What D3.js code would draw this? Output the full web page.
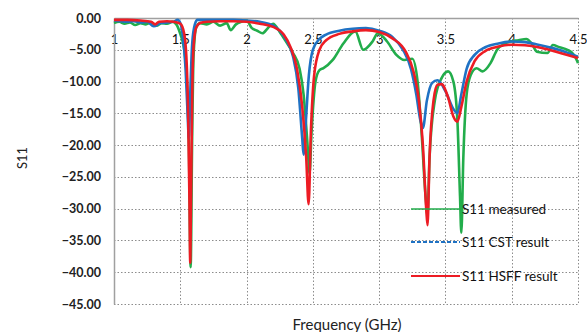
<!DOCTYPE html>
<html><head><meta charset="utf-8">
<script src="https://cdn.jsdelivr.net/npm/d3@7"></script>
<style>
body{margin:0;background:#fff;}
svg{display:block;font-family:Lato,"Open Sans",sans-serif;}
</style></head>
<body><svg id="c" width="587" height="332"></svg>
<script>
const xTicks = [1, 1.5, 2, 2.5, 3, 3.5, 4, 4.5];
const xTickLabels = ["1", "1.5", "2", "2.5", "3", "3.5", "4", "4.5"];
const yTicks = [0, -5, -10, -15, -20, -25, -30, -35, -40, -45];

const seriesNames = ["S11 measured", "S11 CST result", "S11 HSFF result"];

const measuredF = [1.00,1.04,1.08,1.12,1.16,1.20,1.24,1.28,1.32,1.36,1.40,1.44,1.47,1.50,1.53,1.55,1.565,1.578,1.59,1.60,1.62,1.65,1.70,1.75,1.80,1.85,1.88,1.92,1.96,2.00,2.04,2.08,2.12,2.16,2.20,2.25,2.30,2.35,2.40,2.43,2.46,2.475,2.49,2.52,2.55,2.58,2.65,2.73,2.82,2.88,2.95,2.99,3.06,3.13,3.19,3.25,3.29,3.32,3.35,3.365,3.38,3.42,3.47,3.52,3.56,3.59,3.61,3.62,3.635,3.66,3.69,3.735,3.78,3.84,3.89,3.95,3.99,4.05,4.11,4.15,4.19,4.27,4.31,4.36,4.42,4.47,4.50];
const measuredS = [-0.8,-0.6,-0.9,-0.7,-1.1,-0.8,-1.0,-0.7,-1.2,-0.8,-0.9,-0.6,-1.0,-2.5,-5,-10,-20,-39.2,-18,-6,-1.5,-0.8,-1.0,-0.6,-1.2,-0.8,-1.9,-1.0,-0.6,-0.4,-1.6,-2.0,-2.4,-1.6,-0.9,-2.2,-3.8,-5.5,-8,-12,-20,-24.5,-18,-10,-8.2,-7.9,-6.6,-4.0,-2.1,-5.0,-3.7,-2.4,-3.7,-5.8,-6.6,-6.4,-10,-18,-28,-31,-22,-13,-9.5,-8.4,-10,-16,-28,-33.8,-22,-12,-9,-7.9,-8.4,-7.1,-5,-4.0,-3.7,-3.5,-3.3,-4.0,-5.3,-5.5,-4.25,-4.6,-5.0,-5.8,-7.1];

const cstF = [1.00,1.05,1.10,1.15,1.20,1.25,1.30,1.35,1.40,1.45,1.48,1.50,1.52,1.54,1.555,1.565,1.575,1.59,1.61,1.63,1.70,1.80,1.90,2.00,2.10,2.20,2.25,2.30,2.35,2.39,2.42,2.43,2.445,2.47,2.50,2.55,2.60,2.70,2.80,2.90,3.00,3.10,3.18,3.24,3.28,3.31,3.33,3.36,3.40,3.44,3.50,3.56,3.59,3.62,3.66,3.72,3.80,3.90,4.00,4.10,4.20,4.30,4.40,4.50];
const cstS = [-0.4,-0.5,-0.6,-0.5,-0.7,-0.6,-1.3,-0.8,-0.7,-0.6,-0.3,-0.8,-3,-8,-15,-19,-12,-4,-1.0,-0.3,-0.3,-0.3,-0.3,-0.4,-0.6,-1.2,-2.0,-3.5,-6,-11,-19,-21.5,-17,-9,-5,-3.3,-2.6,-2.0,-1.7,-1.6,-2.0,-3.0,-5,-8,-12,-16,-17.3,-13,-10.2,-9.8,-11.5,-14.3,-15,-12,-8,-5.8,-4.6,-4.0,-3.7,-3.8,-4.2,-4.7,-5.3,-6.1];

const hfssF = [1.00,1.10,1.20,1.28,1.31,1.34,1.40,1.45,1.50,1.53,1.55,1.56,1.57,1.575,1.58,1.59,1.60,1.62,1.65,1.70,1.80,1.90,2.00,2.10,2.20,2.28,2.33,2.38,2.42,2.45,2.468,2.485,2.51,2.55,2.60,2.70,2.80,2.90,3.00,3.10,3.20,3.26,3.30,3.33,3.355,3.365,3.38,3.41,3.44,3.47,3.52,3.56,3.59,3.62,3.66,3.72,3.80,3.90,4.00,4.10,4.20,4.30,4.40,4.50];
const hfssS = [-0.3,-0.3,-0.4,-0.6,-1.0,-0.6,-0.5,-0.6,-0.9,-2.5,-8,-16,-30,-38.5,-30,-12,-4.5,-1.5,-0.8,-0.6,-0.5,-0.5,-0.6,-0.9,-1.4,-2.6,-4.5,-8,-14,-22,-29.3,-18,-9,-5,-3.5,-2.5,-2.1,-1.9,-2.2,-3.2,-5.3,-8.5,-13,-20,-30,-32.6,-22,-13,-10.5,-10.4,-12.5,-15.5,-16.3,-14,-10,-6.8,-5.2,-4.5,-4.2,-4.3,-4.6,-5.1,-5.7,-6.3];

const colors = ["#22ad4b", "#1f72c4", "#ed1c24"];

const svg = d3.select("#c");
const L = 114, R = 578, T = 18, B = 304;
const x = d3.scaleLinear().domain([1, 4.5]).range([L, R]);
const y = d3.scaleLinear().domain([0, -45]).range([T, B]);

// gridlines
const grid = svg.append("g").attr("stroke", "#8c8c8c").attr("stroke-width", 1).attr("stroke-dasharray", "1.5,2");
grid.selectAll(".h").data(yTicks.filter(d => d !== 0)).join("line")
  .attr("x1", L).attr("x2", R).attr("y1", d => Math.round(y(d)) + 0.5).attr("y2", d => Math.round(y(d)) + 0.5);
grid.selectAll(".v").data(xTicks.filter(d => d !== 1)).join("line")
  .attr("x1", d => Math.round(x(d)) + 0.5).attr("x2", d => Math.round(x(d)) + 0.5).attr("y1", T).attr("y2", B);

// axes
const xAxis = d3.axisBottom(x).tickValues(xTicks).tickFormat((d, i) => xTickLabels[i]).tickSize(0).tickPadding(17);
const gx = svg.append("g").attr("transform", `translate(0,${T})`).call(xAxis);
gx.select(".domain").attr("stroke", "#a0a0a0").attr("stroke-width", 1.5);
gx.selectAll("text").attr("font-size", 13).attr("fill", "#111").attr("font-family", "Lato, sans-serif");

const yAxis = d3.axisLeft(y).tickValues(yTicks).tickFormat(d3.format(".2f")).tickSize(0).tickPadding(13);
const gy = svg.append("g").attr("transform", `translate(${L},0)`).call(yAxis);
gy.select(".domain").attr("stroke", "#a0a0a0").attr("stroke-width", 1.5);
gy.selectAll("text").attr("font-size", 12.5).attr("font-weight", "bold").attr("fill", "#222").attr("font-family", "Lato, sans-serif");

// lines
const line = d3.line().x(d => x(d[0])).y(d => y(d[1])).curve(d3.curveMonotoneX);
const series = [
  d3.zip(measuredF, measuredS),
  d3.zip(cstF, cstS),
  d3.zip(hfssF, hfssS)
];
svg.append("g").selectAll("path").data(series).join("path")
  .attr("d", line).attr("fill", "none")
  .attr("stroke", (d, i) => colors[i]).attr("stroke-width", 2.6)
  .attr("stroke-linejoin", "round");

// legend
const legY = [209, 242, 276];
const lg = svg.append("g");
lg.selectAll("line").data(seriesNames).join("line")
  .attr("x1", 411).attr("x2", 460)
  .attr("y1", (d, i) => legY[i]).attr("y2", (d, i) => legY[i])
  .attr("stroke", (d, i) => colors[i])
  .attr("stroke-width", (d, i) => i === 0 ? 1.6 : 2.2)
  .attr("stroke-dasharray", (d, i) => i === 1 ? "4,2" : null);
lg.selectAll("text").data(seriesNames).join("text")
  .attr("x", 462).attr("y", (d, i) => legY[i]).attr("dy", "0.35em")
  .attr("font-size", 13.5).attr("fill", "#111").text(d => d);

// axis titles
svg.append("text").attr("x", 347).attr("y", 325).attr("dy", "0.35em").attr("text-anchor", "middle")
  .attr("font-size", 15).attr("fill", "#222").text("Frequency (GHz)");
svg.append("text").attr("transform", "translate(22,158) rotate(-90)").attr("dy", "0.35em").attr("text-anchor", "middle")
  .attr("font-size", 13).attr("fill", "#222").text("S11");
</script></body></html>
